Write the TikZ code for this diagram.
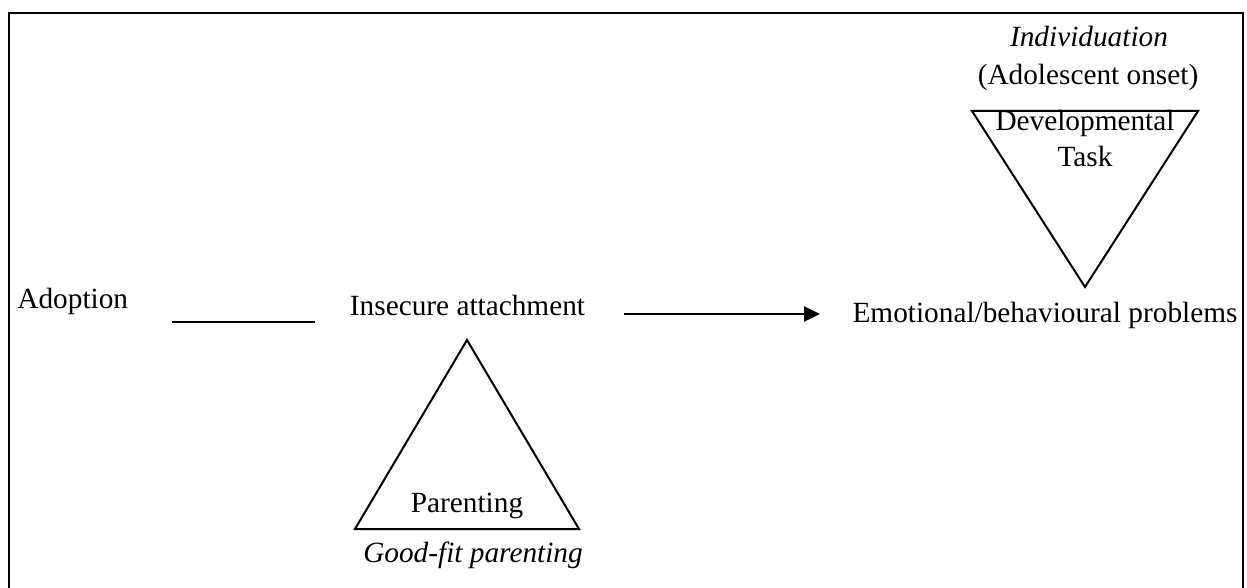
\documentclass[tikz,border=0pt]{standalone}
\usepackage{fontspec}
\setmainfont{Liberation Serif}
\usetikzlibrary{arrows.meta}
\begin{document}
\begin{tikzpicture}[x=0.5pt,y=-0.5pt,
  lbl/.style={inner sep=0pt,font=\fontsize{14.65}{17}\selectfont},
  ilbl/.style={lbl,font=\fontsize{14.65}{17}\selectfont\itshape},
  frame/.style={line width=1.4pt},
  tri/.style={line width=1pt,line join=miter},
  link/.style={line width=1pt}]
\useasboundingbox (0,0) rectangle (1247,588);
\draw[frame] (9,588) -- (9,13) -- (1243,13) -- (1243,588);
% main row
\node[lbl,anchor=base west] (adoption) at (17,308) {Adoption};
\node[lbl,anchor=base] (insecure) at (467.5,315) {Insecure attachment};
\node[lbl,anchor=base] (emotional) at (1045,322) {Emotional/behavioural problems};
\coordinate (l1) at (172,322);
\coordinate (l2) at (315,322);
\draw[link] (l1) -- (l2);
\coordinate (a1) at (624,314);
\coordinate (a2) at (820,314);
\draw[link,-{Triangle[length=8pt,width=7.5pt]}] (a1) -- (a2);
% lower triangle
\draw[tri] (467,340) -- (579,529) -- (355,529) -- cycle;
\node[lbl,anchor=base] (parenting) at (467,512) {Parenting};
\node[ilbl,anchor=base] (goodfit) at (473,562) {Good-fit parenting};
% upper triangle
\draw[tri] (972,111) -- (1198,111) -- (1085,287) -- cycle;
\node[lbl,anchor=base] (dev) at (1085,131) {Developmental};
\node[lbl,anchor=base] (task) at (1085,167) {Task};
\node[ilbl,anchor=base] (indiv) at (1089,47) {Individuation};
\node[lbl,anchor=base] (onset) at (1088,85) {(Adolescent onset)};
\end{tikzpicture}
\end{document}
